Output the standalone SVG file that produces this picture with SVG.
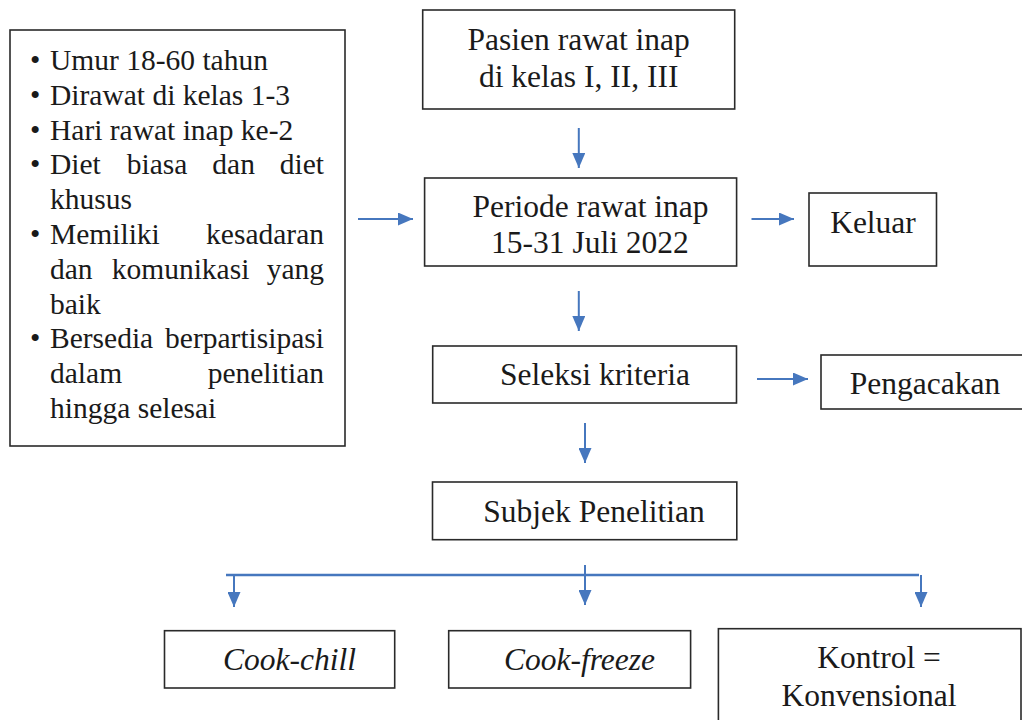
<svg xmlns="http://www.w3.org/2000/svg" width="1022" height="720" viewBox="0 0 1022 720" font-family="Liberation Serif">
<defs>
<marker id="ah" markerUnits="userSpaceOnUse" markerWidth="15" markerHeight="13" refX="15" refY="6.5" orient="auto">
<path d="M0,0 L15,6.5 L0,13 z" fill="#4677BE"/>
</marker>
<style>
.box{fill:#fff;stroke:#2a2a2a;stroke-width:1.6}
.t{font-size:31.5px;fill:#1a1a1a;text-anchor:middle}
.l{font-size:29.5px;fill:#1a1a1a}
.e{text-anchor:end}
.i{font-style:italic}
.c{fill:none;stroke:#4677BE;stroke-width:2}
</style>
</defs>
<rect width="1022" height="720" fill="#fff"/>
<g id="kriteria">
<rect class="box" x="10" y="30" width="335" height="416"/>
<text class="l" x="30" y="70">•</text><text class="l" x="50" y="70">Umur 18-60 tahun</text>
<text class="l" x="30" y="104.8">•</text><text class="l" x="50" y="104.8">Dirawat di kelas 1-3</text>
<text class="l" x="30" y="139.6">•</text><text class="l" x="50" y="139.6">Hari rawat inap ke-2</text>
<text class="l" x="30" y="174.4">•</text><text class="l" x="50" y="174.4">Diet</text><text class="l" x="126.7" y="174.4">biasa</text><text class="l" x="212.3" y="174.4">dan</text><text class="l e" x="324" y="174.4">diet</text>
<text class="l" x="50" y="209.2">khusus</text>
<text class="l" x="30" y="244">•</text><text class="l" x="50" y="244">Memiliki</text><text class="l e" x="324" y="244">kesadaran</text>
<text class="l" x="50" y="278.8">dan</text><text class="l" x="111.7" y="278.8">komunikasi</text><text class="l e" x="324" y="278.8">yang</text>
<text class="l" x="50" y="313.6">baik</text>
<text class="l" x="30" y="348.4">•</text><text class="l" x="50" y="348.4">Bersedia</text><text class="l e" x="324" y="348.4">berpartisipasi</text>
<text class="l" x="50" y="383.2">dalam</text><text class="l e" x="324" y="383.2">penelitian</text>
<text class="l" x="50" y="418">hingga selesai</text>
</g>
<g id="pasien">
<rect class="box" x="422.7" y="10" width="312" height="99"/>
<text class="t" x="578.7" y="50">Pasien rawat inap</text>
<text class="t" x="578.7" y="87.3">di kelas I, II, III</text>
</g>
<g id="periode">
<rect class="box" x="424.6" y="178" width="312" height="88"/>
<text class="t" x="590.5" y="216.7">Periode rawat inap</text>
<text class="t" x="590" y="253.3">15-31 Juli 2022</text>
</g>
<g id="keluar">
<rect class="box" x="809" y="193" width="127.5" height="73"/>
<text class="t" x="873" y="233.3">Keluar</text>
</g>
<g id="seleksi">
<rect class="box" x="432.7" y="346" width="303.8" height="57"/>
<text class="t" x="595" y="385">Seleksi kriteria</text>
</g>
<g id="pengacakan">
<rect class="box" x="821" y="355" width="220" height="54"/>
<text class="t" x="925" y="394.3">Pengacakan</text>
</g>
<g id="subjek">
<rect class="box" x="432.5" y="482" width="304.3" height="57.7"/>
<text class="t" x="594" y="521.7">Subjek Penelitian</text>
</g>
<g id="cookchill">
<rect class="box" x="164.5" y="630.7" width="230.2" height="57.3"/>
<text class="t i" x="289.5" y="670">Cook-chill</text>
</g>
<g id="cookfreeze">
<rect class="box" x="448.7" y="630.7" width="241.9" height="57.3"/>
<text class="t i" x="579.5" y="670">Cook-freeze</text>
</g>
<g id="kontrol">
<rect class="box" x="718.4" y="628.7" width="302.6" height="110"/>
<text class="t" x="879" y="668">Kontrol =</text>
<text class="t" x="869" y="706">Konvensional</text>
</g>
<g id="connectors">
<path class="c" d="M578.8,128 V168" marker-end="url(#ah)"/>
<path class="c" d="M358,219 H413" marker-end="url(#ah)"/>
<path class="c" d="M751.5,219 H794" marker-end="url(#ah)"/>
<path class="c" d="M578.8,291 V331" marker-end="url(#ah)"/>
<path class="c" d="M757,379 H808" marker-end="url(#ah)"/>
<path class="c" d="M585,423 V463" marker-end="url(#ah)"/>
<path class="c" d="M226,575 H919" style="stroke-width:2.6"/>
<path class="c" d="M585,565 V605" marker-end="url(#ah)"/>
<path class="c" d="M234,575 V607" marker-end="url(#ah)"/>
<path class="c" d="M921,575 V607" marker-end="url(#ah)"/>
</g>
</svg>
